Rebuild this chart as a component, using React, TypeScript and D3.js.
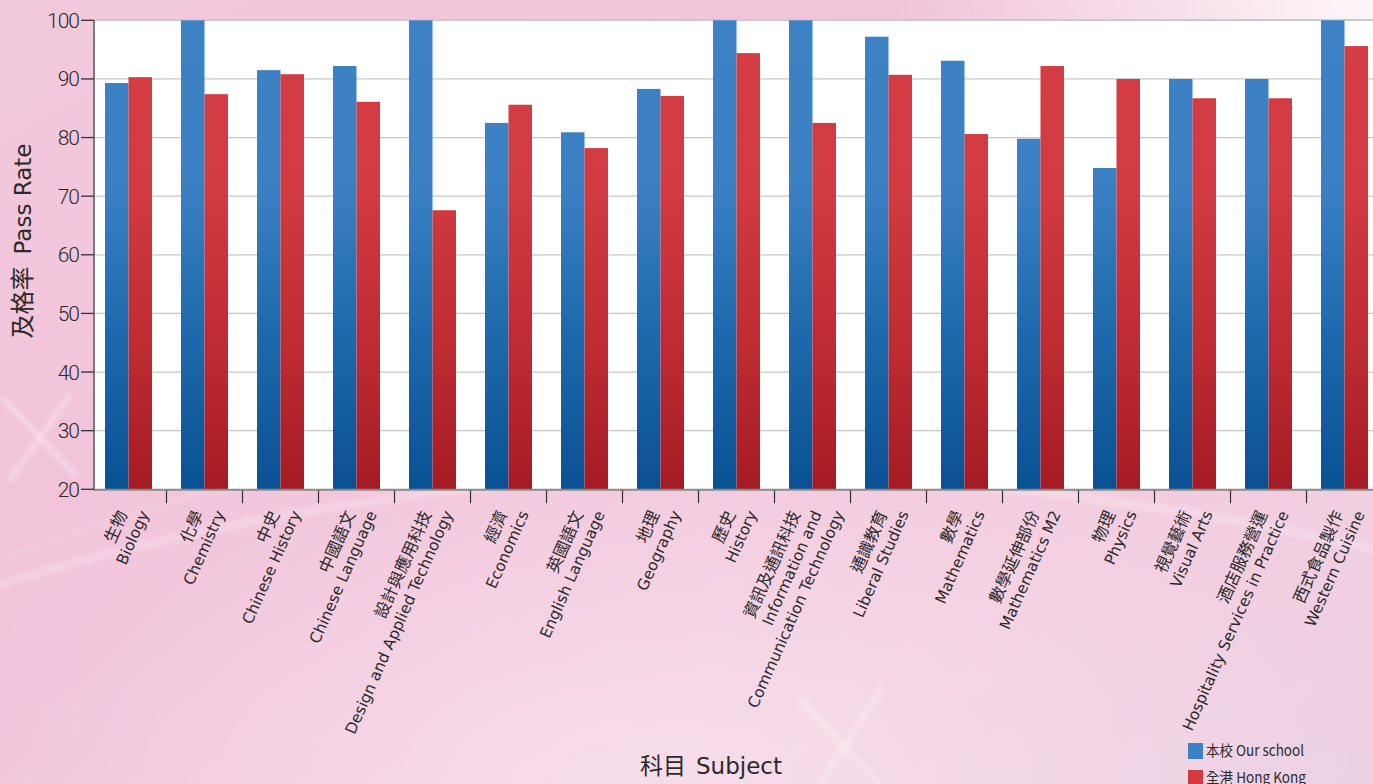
import React from "react";
import * as d3 from "d3";

const subjectsZh = ["生物","化學","中史","中國語文","設計與應用科技","經濟","英國語文","地理","歷史","資訊及通訊科技","通識教育","數學","數學延伸部份","物理","視覺藝術","酒店服務營運","西式食品製作"];
const subjectsEn = ["Biology","Chemistry","Chinese History","Chinese Language","Design and Applied Technology","Economics","English Language","Geography","History","Information and\nCommunication Technology","Liberal Studies","Mathematics","Mathematics M2","Physics","Visual Arts","Hospitality Services in Practice","Western Cuisine"];
const ourSchool = [89.3, 100, 91.5, 92.2, 100, 82.5, 80.9, 88.3, 100, 100, 97.2, 93.1, 79.8, 74.8, 90, 90, 100];
const hongKong = [90.3, 87.4, 90.8, 86.1, 67.6, 85.6, 78.2, 87.1, 94.4, 82.5, 90.7, 80.6, 92.2, 90.0, 86.7, 86.7, 95.6];
const seriesNames = ["本校 Our school", "全港 Hong Kong"];
const yTicks = [20, 30, 40, 50, 60, 70, 80, 90, 100];

const W = 1373, H = 784;
const plotLeft = 94, plotTop = 20.3, plotBottom = 489.3;
const bandStart = 90.5, step = 76;

export default function App() {
  const x = d3.scaleBand<number>().domain(d3.range(subjectsZh.length)).range([bandStart, bandStart + step * subjectsZh.length]).padding(0);
  const inner = d3.scaleBand<string>().domain(["s", "h"]).range([14.5, 61.5]).padding(0);
  const y = d3.scaleLinear().domain([20, 100]).range([plotBottom, plotTop]);
  const labelFont = '"DejaVu Sans", "Noto Sans CJK TC", sans-serif';

  return (
    <svg width={W} height={H} style={{ position: "absolute", left: 0, top: 0, display: "block" }}>
      <defs>
        <linearGradient id="bg" x1="0" y1="0" x2="1" y2="1">
          <stop offset="0" stopColor="#f3c9dc" />
          <stop offset="0.45" stopColor="#f1c2d9" />
          <stop offset="0.75" stopColor="#f3cddf" />
          <stop offset="1" stopColor="#ecd2e4" />
        </linearGradient>
        <radialGradient id="glowTR" cx="1" cy="0" r="0.35">
          <stop offset="0" stopColor="#ffffff" stopOpacity="0.85" />
          <stop offset="1" stopColor="#ffffff" stopOpacity="0" />
        </radialGradient>
        <radialGradient id="glowB" cx="0.45" cy="1" r="0.55">
          <stop offset="0" stopColor="#ffffff" stopOpacity="0.35" />
          <stop offset="1" stopColor="#ffffff" stopOpacity="0" />
        </radialGradient>
        <filter id="soft" x="-20%" y="-20%" width="140%" height="140%">
          <feGaussianBlur stdDeviation="2.5" />
        </filter>
        <linearGradient id="gBlue" gradientUnits="userSpaceOnUse" x1="0" y1={plotTop} x2="0" y2={plotBottom}>
          <stop offset="0" stopColor="#3e82c6" />
          <stop offset="0.35" stopColor="#3c80c4" />
          <stop offset="0.65" stopColor="#1f6aae" />
          <stop offset="1" stopColor="#0a5194" />
        </linearGradient>
        <linearGradient id="gRed" gradientUnits="userSpaceOnUse" x1="0" y1={plotTop} x2="0" y2={plotBottom}>
          <stop offset="0" stopColor="#d33d43" />
          <stop offset="0.35" stopColor="#d13b41" />
          <stop offset="0.65" stopColor="#c22d35" />
          <stop offset="1" stopColor="#a51b23" />
        </linearGradient>
      </defs>

      {/* background */}
      <rect x={0} y={0} width={W} height={H} fill="url(#bg)" />
      <rect x={0} y={0} width={W} height={H} fill="url(#glowB)" />
      <rect x={0} y={0} width={W} height={H} fill="url(#glowTR)" />
      <g filter="url(#soft)">
        <path d="M -50 600 Q 500 420 1100 500 T 1500 720" fill="none" stroke="#ffffff" strokeOpacity="0.22" strokeWidth="8" />
        <path d="M 0 560 Q 600 330 1373 450" fill="none" stroke="#ffffff" strokeOpacity="0.12" strokeWidth="5" />
        <g stroke="#ffffff" strokeOpacity="0.35" strokeWidth="5" strokeLinecap="round">
          <line x1={5} y1={400} x2={75} y2={475} />
          <line x1={10} y1={480} x2={70} y2={395} />
          <line x1={800} y1={700} x2={880} y2={784} />
          <line x1={820} y1={784} x2={880} y2={690} />
        </g>
      </g>

      {/* plot area */}
      <rect x={plotLeft} y={plotTop} width={W - plotLeft} height={plotBottom - plotTop} fill="#ffffff" />
      <line x1={plotLeft} x2={W} y1={plotTop - 0.5} y2={plotTop - 0.5} stroke="#d9cad2" strokeWidth={1.5} />

      {/* grid */}
      {yTicks.filter(t => t > 20).map(t => (
        <line key={t} x1={plotLeft} x2={W} y1={y(t)} y2={y(t)} stroke="#c8c8c8" strokeWidth={1.3} />
      ))}

      {/* bars */}
      {subjectsZh.map((_, i) => (
        <g key={i} transform={`translate(${x(i)},0)`}>
          <rect x={inner("s")} y={y(ourSchool[i])} width={inner.bandwidth()} height={plotBottom - y(ourSchool[i])} fill="url(#gBlue)" />
          <rect x={inner("h")} y={y(hongKong[i])} width={inner.bandwidth()} height={plotBottom - y(hongKong[i])} fill="url(#gRed)" />
        </g>
      ))}

      {/* axes */}
      <line x1={plotLeft} x2={W} y1={plotBottom + 0.5} y2={plotBottom + 0.5} stroke="#8a8a8a" strokeWidth={2} />
      <line x1={plotLeft} x2={plotLeft} y1={plotTop} y2={plotBottom + 1} stroke="#7a7a7a" strokeWidth={2} />
      {yTicks.map(t => (
        <g key={t}>
          <line x1={81} x2={plotLeft} y1={y(t)} y2={y(t)} stroke="#333" strokeWidth={1.3} />
          <text x={79} y={y(t)} dy="0.36em" textAnchor="end" fontFamily="Roboto, sans-serif" fontWeight={300} fontSize={21} letterSpacing={-1} fill="#2a2a2a">{t}</text>
        </g>
      ))}
      {d3.range(1, subjectsZh.length).map(i => (
        <line key={i} x1={x(i)} x2={x(i)} y1={plotBottom + 1} y2={plotBottom + 14} stroke="#333" strokeWidth={1.2} />
      ))}

      {/* x labels */}
      {subjectsZh.map((zh, i) => {
        const lines = [zh, ...subjectsEn[i].split("\n")];
        const cx = (x(i) as number) + step / 2;
        const n = lines.length;
        return lines.map((ln, k) => {
          const isZh = k === 0;
          const ax = cx - 1 + (k - (n - 1) / 2) * 22;
          const ay = 509;
          return (
            <text key={`${i}-${k}`} transform={`translate(${ax},${ay}) rotate(-66)`} textAnchor="end" dy="0.75em"
              fontFamily={isZh ? '"Noto Sans CJK TC", sans-serif' : labelFont} fontSize={isZh ? 16.5 : 15.5} fill="#2a2a2a">{ln}</text>
          );
        });
      })}

      {/* axis titles */}
      <text transform={`translate(23,241) rotate(-90)`} textAnchor="middle" dy="0.35em" fontFamily={labelFont} fontSize={23} fill="#2a2a2a">
        <tspan fontFamily='"Noto Sans CJK TC", sans-serif' fontSize={24}>及格率</tspan>
        <tspan dx={12}>Pass Rate</tspan>
      </text>
      <text x={711} y={774} textAnchor="middle" fontFamily={labelFont} fontSize={23} fill="#2a2a2a">
        <tspan fontFamily='"Noto Sans CJK TC", sans-serif'>科目</tspan>
        <tspan dx={10}>Subject</tspan>
      </text>

      {/* legend */}
      {seriesNames.map((name, k) => (
        <g key={name} transform={`translate(1188,${743 + k * 27})`}>
          <rect x={0} y={0} width={15} height={16} fill={k === 0 ? "#3d81c5" : "#d13b41"} />
          <text x={18} y={8} dy="0.36em" fontFamily='"Liberation Sans Narrow", "Noto Sans CJK TC", sans-serif' fontSize={15} textLength={k === 0 ? 98 : 100} lengthAdjust="spacingAndGlyphs" fill="#2a2a2a">{name}</text>
        </g>
      ))}
    </svg>
  );
}
